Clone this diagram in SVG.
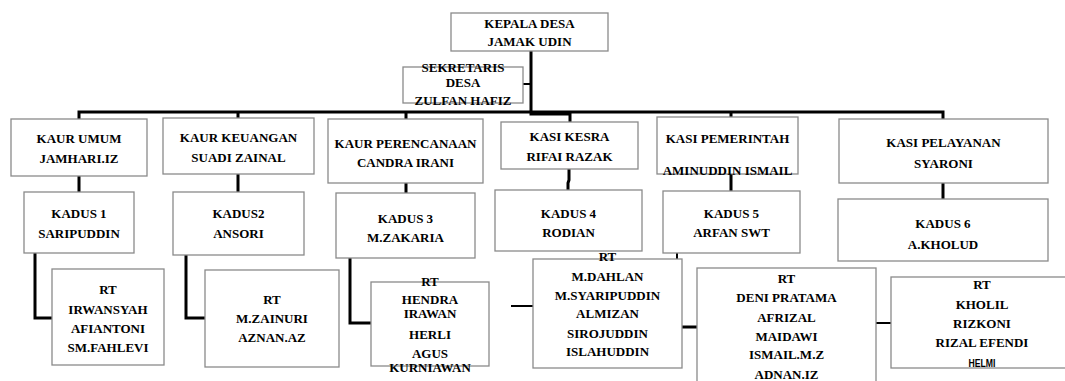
<svg xmlns="http://www.w3.org/2000/svg" width="1065" height="381" viewBox="0 0 1065 381">
<style>
.b{fill:#fff;stroke:#8a8a8a;stroke-width:1.3}
.t{font-family:"Liberation Serif","Times New Roman",serif;font-weight:bold;font-size:13px;fill:#000;text-anchor:middle}
.s{font-family:"Liberation Sans",Arial,sans-serif;font-weight:bold;font-size:10.5px;fill:#000;text-anchor:middle}
.c{fill:none;stroke:#000;stroke-width:3}
.c2{fill:none;stroke:#000;stroke-width:2}
</style>
<rect width="1065" height="381" fill="#fff"/>
<g id="connectors">
<path class="c" d="M531,51 V114 H570 V122"/>
<path class="c" d="M79,119 V112 H943 V119"/>
<path class="c" d="M238,112 V118 M406,112 V119 M731,112 V117"/>
<path class="c2" d="M523,84 H531"/>
<path class="c" d="M79,176 V192 M238,174 V192 M406,183 V193 M569,169 V180 L568,183 V190 M731,174 V191 M943,183 V199"/>
<path class="c" d="M35,253 V318 H52 M186,255 V318 H205 M350,258 V323 H371"/>
<path class="c2" d="M677,253 V259"/>
<path class="c2" d="M511,306 H537"/>
<path class="c" d="M682,327 H697"/>
<path class="c2" d="M860,323 H894"/>
</g>
<g id="kepala"><rect class="b" x="451" y="13" width="157" height="38"/><text class="t" x="529.5" y="28">KEPALA DESA</text><text class="t" x="529.5" y="46">JAMAK UDIN</text></g>
<g id="sekretaris"><rect class="b" x="403" y="67" width="120" height="36"/><text class="t" x="463" y="72">SEKRETARIS</text><text class="t" x="463" y="87">DESA</text><text class="t" x="463" y="105">ZULFAN HAFIZ</text></g>
<g id="kaur-umum"><rect class="b" x="11" y="119" width="136" height="57"/><text class="t" x="79" y="143">KAUR UMUM</text><text class="t" x="79" y="163">JAMHARI.IZ</text></g>
<g id="kaur-keuangan"><rect class="b" x="163" y="118" width="151" height="56"/><text class="t" x="238.5" y="142">KAUR KEUANGAN</text><text class="t" x="238.5" y="162">SUADI ZAINAL</text></g>
<g id="kaur-perencanaan"><rect class="b" x="328" y="119" width="155" height="64"/><text class="t" x="405.5" y="148">KAUR PERENCANAAN</text><text class="t" x="405.5" y="167">CANDRA IRANI</text></g>
<g id="kasi-kesra"><rect class="b" x="501" y="122" width="137" height="47"/><text class="t" x="569.5" y="141">KASI KESRA</text><text class="t" x="569.5" y="161">RIFAI RAZAK</text></g>
<g id="kasi-pemerintah"><rect class="b" x="657" y="117" width="141" height="57"/><text class="t" x="727.5" y="143">KASI PEMERINTAH</text><text class="t" x="727.5" y="175">AMINUDDIN  ISMAIL</text></g>
<g id="kasi-pelayanan"><rect class="b" x="839" y="119" width="209" height="64"/><text class="t" x="943.5" y="147">KASI PELAYANAN</text><text class="t" x="943.5" y="168">SYARONI</text></g>
<g id="kadus1"><rect class="b" x="24" y="192" width="110" height="61"/><text class="t" x="79" y="218">KADUS 1</text><text class="t" x="79" y="238">SARIPUDDIN</text></g>
<g id="kadus2"><rect class="b" x="173" y="192" width="131" height="63"/><text class="t" x="238.5" y="218">KADUS2</text><text class="t" x="238.5" y="238">ANSORI</text></g>
<g id="kadus3"><rect class="b" x="336" y="193" width="139" height="65"/><text class="t" x="405.5" y="223">KADUS 3</text><text class="t" x="405.5" y="242">M.ZAKARIA</text></g>
<g id="kadus4"><rect class="b" x="495" y="190" width="147" height="61"/><text class="t" x="568.5" y="218">KADUS 4</text><text class="t" x="568.5" y="237">RODIAN</text></g>
<g id="kadus5"><rect class="b" x="663" y="191" width="137" height="62"/><text class="t" x="731.5" y="218">KADUS 5</text><text class="t" x="731.5" y="237">ARFAN SWT</text></g>
<g id="kadus6"><rect class="b" x="838" y="199" width="210" height="62"/><text class="t" x="943" y="228">KADUS 6</text><text class="t" x="943" y="249">A.KHOLUD</text></g>
<g id="rt1"><rect class="b" x="52" y="269" width="112" height="96"/><text class="t" x="108" y="294">RT</text><text class="t" x="108" y="314">IRWANSYAH</text><text class="t" x="108" y="333">AFIANTONI</text><text class="t" x="108" y="352">SM.FAHLEVI</text></g>
<g id="rt2"><rect class="b" x="205" y="270" width="134" height="97"/><text class="t" x="272" y="304">RT</text><text class="t" x="272" y="323">M.ZAINURI</text><text class="t" x="272" y="342">AZNAN.AZ</text></g>
<g id="rt3"><rect class="b" x="371" y="282" width="118" height="84"/><text class="t" x="430" y="286">RT</text><text class="t" x="430" y="304">HENDRA</text><text class="t" x="430" y="318">IRAWAN</text><text class="t" x="430" y="339">HERLI</text><text class="t" x="430" y="358">AGUS</text><text class="t" x="430" y="372">KURNIAWAN</text></g>
<g id="rt4"><rect class="b" x="533" y="259" width="149" height="109"/><text class="t" x="607.5" y="261">RT</text><text class="t" x="607.5" y="281">M.DAHLAN</text><text class="t" x="607.5" y="300">M.SYARIPUDDIN</text><text class="t" x="607.5" y="318">ALMIZAN</text><text class="t" x="607.5" y="338">SIROJUDDIN</text><text class="t" x="607.5" y="356">ISLAHUDDIN</text></g>
<g id="rt5"><rect class="b" x="697" y="268" width="179" height="130"/><text class="t" x="786.5" y="283">RT</text><text class="t" x="786.5" y="302">DENI PRATAMA</text><text class="t" x="786.5" y="322">AFRIZAL</text><text class="t" x="786.5" y="341">MAIDAWI</text><text class="t" x="786.5" y="359">ISMAIL.M.Z</text><text class="t" x="786.5" y="379">ADNAN.IZ</text></g>
<g id="rt6"><rect class="b" x="891" y="277" width="184" height="91"/><text class="t" x="982" y="289">RT</text><text class="t" x="982" y="309">KHOLIL</text><text class="t" x="982" y="328">RIZKONI</text><text class="t" x="982" y="347">RIZAL EFENDI</text><text class="s" x="982" y="367" textLength="27" lengthAdjust="spacingAndGlyphs">HELMI</text></g>
</svg>
